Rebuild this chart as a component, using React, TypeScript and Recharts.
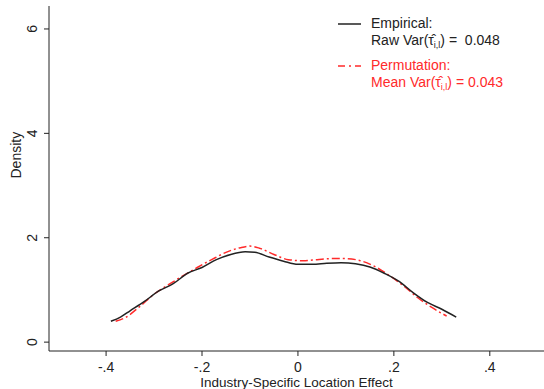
import React from 'react';
import { LineChart, Line, XAxis, YAxis } from 'recharts';

const empiricalX = [-0.39, -0.37, -0.35, -0.32, -0.29, -0.26, -0.23, -0.2, -0.17, -0.14, -0.11, -0.09, -0.06, -0.03, 0, 0.03, 0.06, 0.09, 0.12, 0.15, 0.18, 0.21, 0.24, 0.27, 0.3, 0.33];
const empiricalY = [0.4, 0.48, 0.6, 0.78, 0.98, 1.12, 1.32, 1.43, 1.58, 1.68, 1.73, 1.72, 1.63, 1.55, 1.49, 1.49, 1.51, 1.52, 1.5, 1.44, 1.32, 1.17, 0.95, 0.76, 0.63, 0.48];

const permutationX = [-0.38, -0.36, -0.33, -0.3, -0.27, -0.24, -0.21, -0.18, -0.15, -0.12, -0.1, -0.08, -0.05, -0.02, 0.01, 0.04, 0.07, 0.1, 0.13, 0.16, 0.19, 0.22, 0.25, 0.28, 0.31];
const permutationY = [0.4, 0.47, 0.68, 0.92, 1.1, 1.27, 1.43, 1.58, 1.72, 1.81, 1.84, 1.8, 1.68, 1.58, 1.56, 1.58, 1.6, 1.6, 1.56, 1.45, 1.28, 1.08, 0.85, 0.66, 0.5];

const xTicks = [-0.4, -0.2, 0, 0.2, 0.4];
const xTickLabels = ['-.4', '-.2', '0', '.2', '.4'];
const yTicks = [0, 2, 4, 6];

const empirical = empiricalX.map((x, i) => ({ x, y: empiricalY[i] }));
const permutation = permutationX.map((x, i) => ({ x, y: permutationY[i] }));

const FONT = '"Liberation Sans", Arial, sans-serif';
const RED = '#ff2a2a';
const INK = '#222';

const YTick = ({ x, y, payload }: any) => (
  <text x={x - 5} y={y} transform={`rotate(-90 ${x - 5} ${y})`} textAnchor="middle" fontSize={14} fill={INK} fontFamily={FONT}>
    {payload.value}
  </text>
);

const XTick = ({ x, y, payload }: any) => (
  <text x={x} y={y + 14} textAnchor="middle" fontSize={14} fill={INK} fontFamily={FONT}>
    {xTickLabels[xTicks.indexOf(payload.value)] ?? payload.value}
  </text>
);

const Tau = () => (
  <span>
    τ&#770;<sub style={{ fontSize: 9, verticalAlign: -3 }}>i,l</sub>
  </span>
);

const LegendBox = () => (
  <div style={{ position: 'absolute', left: 336, top: 15, fontFamily: FONT, fontSize: 14, lineHeight: '17px' }}>
    <div style={{ display: 'flex', color: INK }}>
      <svg width={35} height={17}>
        <line x1={2} y1={9} x2={25} y2={9} stroke={INK} strokeWidth={1.5} />
      </svg>
      <div>
        Empirical:
        <br />
        Raw Var(<Tau />) =&nbsp; 0.048
      </div>
    </div>
    <div style={{ display: 'flex', color: RED, marginTop: 3 }}>
      <svg width={35} height={17}>
        <line x1={2} y1={9} x2={25} y2={9} stroke={RED} strokeWidth={1.5} strokeDasharray="7 4 2 4" />
      </svg>
      <div>
        Permutation:
        <br />
        Mean Var(<Tau />) = 0.043
      </div>
    </div>
  </div>
);

const App = () => (
  <div style={{ position: 'absolute', left: 0, top: 0, width: 544, height: 389 }}>
    <LineChart width={544} height={389} margin={{ top: 6, right: 0, bottom: 0, left: 0 }}>
      <XAxis
        type="number"
        dataKey="x"
        domain={[-0.519, 0.513]}
        ticks={xTicks}
        height={38}
        tickSize={5}
        stroke={INK}
        tick={<XTick />}
        allowDataOverflow
        label={{ value: 'Industry-Specific Location Effect', position: 'insideBottom', offset: 2, fontSize: 13.5, fill: INK, fontFamily: FONT }}
      />
      <YAxis
        type="number"
        dataKey="y"
        domain={[-0.17, 6.44]}
        ticks={yTicks}
        width={49}
        tickSize={5}
        stroke={INK}
        tick={<YTick />}
        allowDataOverflow
        label={{ value: 'Density', angle: -90, position: 'insideLeft', offset: 16, fontSize: 14, fill: INK, fontFamily: FONT }}
      />
      <Line data={permutation} dataKey="y" type="monotone" stroke={RED} strokeWidth={1.5} strokeDasharray="8 3 2 3" dot={false} isAnimationActive={false} />
      <Line data={empirical} dataKey="y" type="monotone" stroke={INK} strokeWidth={1.5} dot={false} isAnimationActive={false} />
    </LineChart>
    <LegendBox />
  </div>
);

export default App;
